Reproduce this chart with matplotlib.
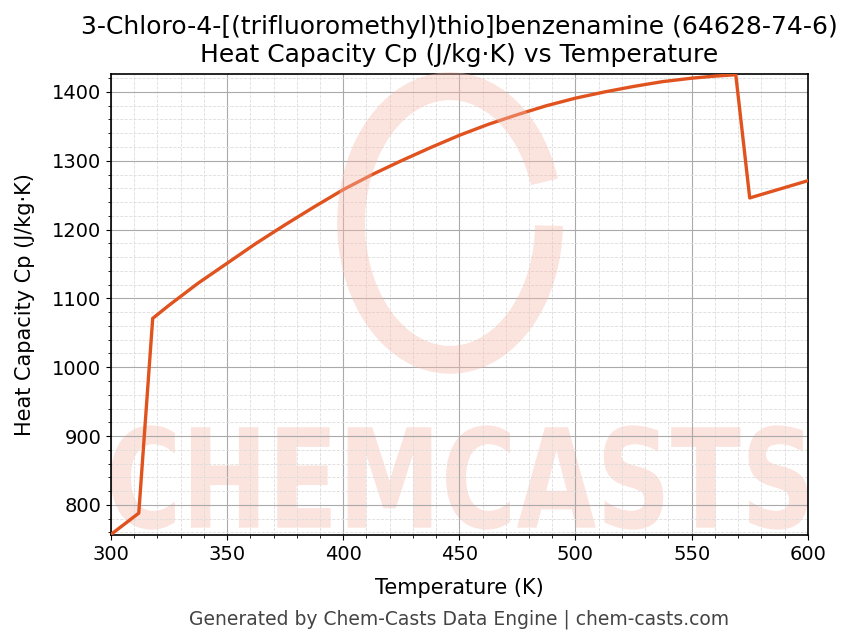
import matplotlib.pyplot as plt
from matplotlib.patches import Arc, PathPatch
from matplotlib.textpath import TextPath
from matplotlib.font_manager import FontProperties
from matplotlib.transforms import Affine2D
from matplotlib.ticker import MultipleLocator

# temperature (K) and heat capacity (J/kg·K)
temp = [300, 312, 318, 325, 337.5, 350, 362.5, 375, 387.5, 400, 412.5, 425, 437.5,
        450, 462.5, 475, 487.5, 500, 512.5, 525, 537.5, 550, 560, 569, 575, 600]
cp = [757, 788, 1071, 1090, 1122, 1151, 1180, 1207, 1233, 1258, 1280, 1300, 1319,
      1337, 1353, 1367, 1380, 1391, 1400, 1408, 1415, 1420, 1423, 1425, 1246, 1271]

title = '3-Chloro-4-[(trifluoromethyl)thio]benzenamine (64628-74-6)\nHeat Capacity Cp (J/kg·K) vs Temperature'

f = plt.figure(figsize=(8.53, 6.44), dpi=100)
ax = f.add_axes([0.130, 0.169, 0.817, 0.716])

# watermark: squeezed CHEMCASTS word along the bottom + open ring logo
wm = '#f7b9ad'
tp = TextPath((0, 0), 'CHEMCASTS', size=1, prop=FontProperties(family='DejaVu Sans', weight='bold'))
bb = tp.get_extents()
x0, x1, y0, y1 = 0.0, 1.0, 0.012, 0.238
fit = Affine2D().translate(-bb.x0, -bb.y0).scale((x1 - x0) / bb.width, (y1 - y0) / bb.height).translate(x0, y0)
ax.add_patch(PathPatch(fit.transform_path(tp), transform=ax.transAxes, facecolor=wm,
                       edgecolor='none', alpha=0.4, zorder=0))
logo = Arc((0.5276, 0.6537), 0.232, 0.425, angle=0, theta1=30, theta2=358,
           transform=f.transFigure, color=wm, alpha=0.4, linewidth=20, zorder=0)
f.patches.append(logo)

ax.plot(temp, cp, color='#e0531f', linewidth=2.4, zorder=3)

ax.set_xlim(300, 600)
ax.set_ylim(756, 1426)
ax.xaxis.set_major_locator(MultipleLocator(50))
ax.xaxis.set_minor_locator(MultipleLocator(10))
ax.yaxis.set_major_locator(MultipleLocator(100))
ax.yaxis.set_minor_locator(MultipleLocator(20))
ax.grid(which='major', color='#aaaaaa', linewidth=0.8)
ax.grid(which='minor', color='#dddddd', linestyle='--', linewidth=0.6)
ax.tick_params(labelsize=14)
for s in ax.spines.values():
    s.set_linewidth(1.2)

ax.set_title(title, fontsize=18, pad=9)
ax.set_xlabel('Temperature (K)', fontsize=15, labelpad=10)
ax.set_ylabel('Heat Capacity Cp (J/kg·K)', fontsize=15, labelpad=12)
f.text(0.538, 0.039, 'Generated by Chem-Casts Data Engine | chem-casts.com',
       ha='center', va='center', fontsize=13.5, color='#444444')

plt.savefig('out.png', dpi=100)
